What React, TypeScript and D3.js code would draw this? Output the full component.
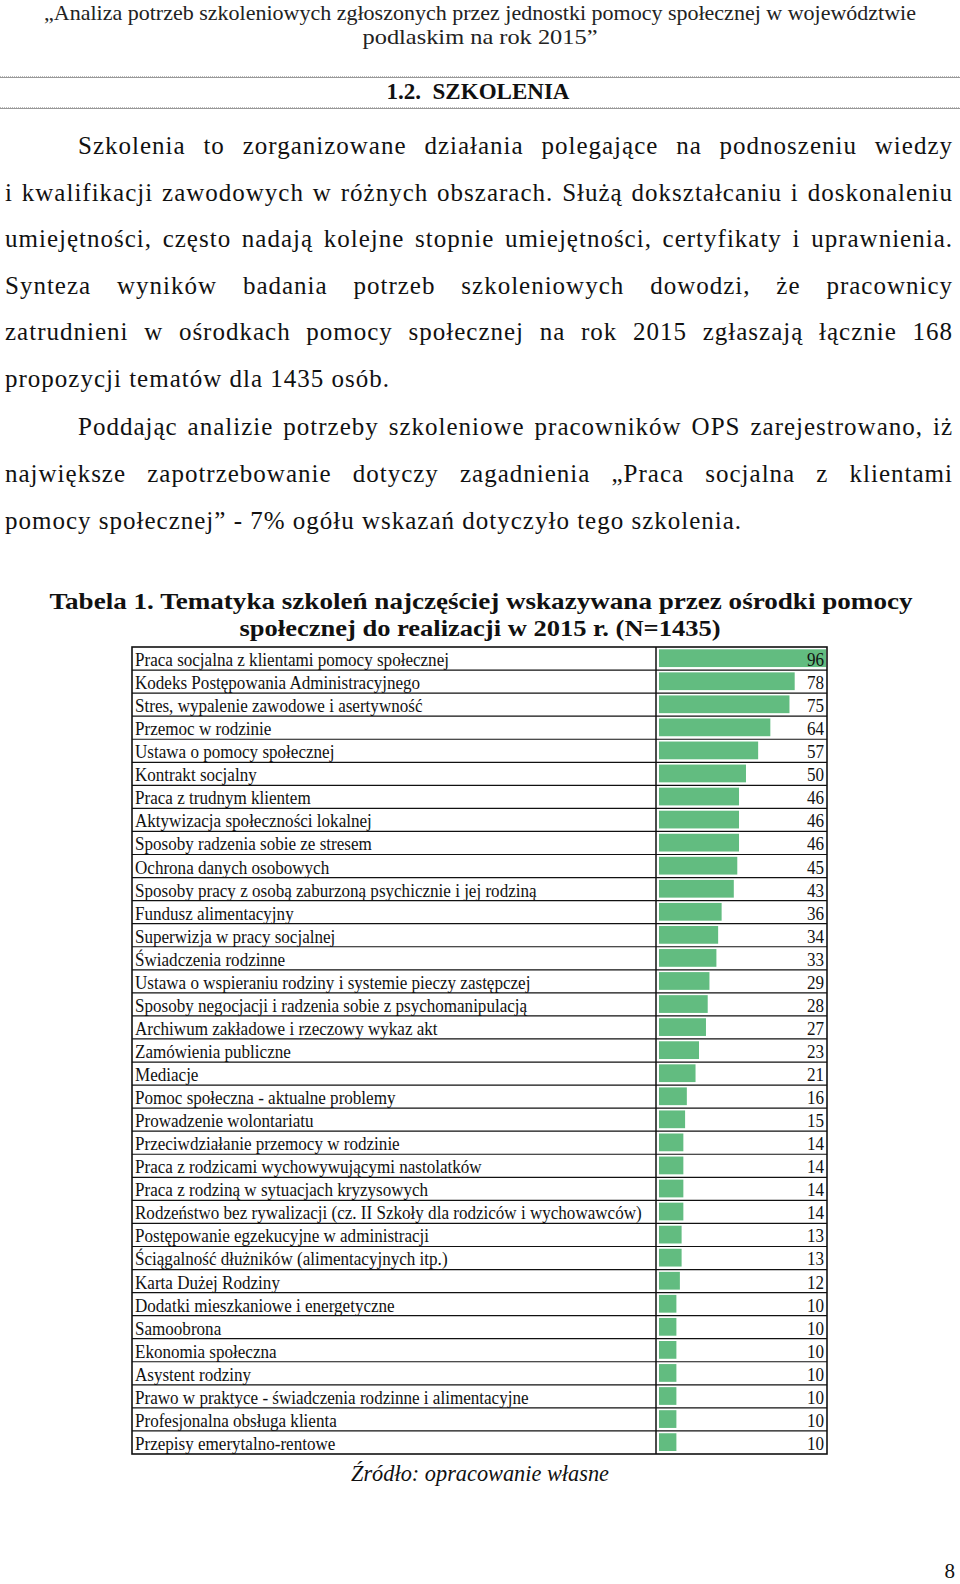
import React, { useLayoutEffect, useRef } from 'react';
import * as d3 from 'd3';

const topics: string[] = [
  'Praca socjalna z klientami pomocy społecznej',
  'Kodeks Postępowania Administracyjnego',
  'Stres, wypalenie zawodowe i asertywność',
  'Przemoc w rodzinie',
  'Ustawa o pomocy społecznej',
  'Kontrakt socjalny',
  'Praca z trudnym klientem',
  'Aktywizacja społeczności lokalnej',
  'Sposoby radzenia sobie ze stresem',
  'Ochrona danych osobowych',
  'Sposoby pracy z osobą zaburzoną psychicznie i jej rodziną',
  'Fundusz alimentacyjny',
  'Superwizja w pracy socjalnej',
  'Świadczenia rodzinne',
  'Ustawa o wspieraniu rodziny i systemie pieczy zastępczej',
  'Sposoby negocjacji i radzenia sobie z psychomanipulacją',
  'Archiwum zakładowe i rzeczowy wykaz akt',
  'Zamówienia publiczne',
  'Mediacje',
  'Pomoc społeczna - aktualne problemy',
  'Prowadzenie wolontariatu',
  'Przeciwdziałanie przemocy w rodzinie',
  'Praca z rodzicami wychowywującymi nastolatków',
  'Praca z rodziną w sytuacjach kryzysowych',
  'Rodzeństwo bez rywalizacji (cz. II Szkoły dla rodziców i wychowawców)',
  'Postępowanie egzekucyjne w administracji',
  'Ściągalność dłużników (alimentacyjnych itp.)',
  'Karta Dużej Rodziny',
  'Dodatki mieszkaniowe i energetyczne',
  'Samoobrona',
  'Ekonomia społeczna',
  'Asystent rodziny',
  'Prawo w praktyce - świadczenia rodzinne i alimentacyjne',
  'Profesjonalna obsługa klienta',
  'Przepisy emerytalno-rentowe',
];

const counts: number[] = [
  96, 78, 75, 64, 57, 50, 46, 46, 46, 45, 43, 36, 34, 33, 29, 28, 27, 23, 21, 16,
  15, 14, 14, 14, 14, 13, 13, 12, 10, 10, 10, 10, 10, 10, 10,
];

const headerLines: string[] = [
  '„Analiza potrzeb szkoleniowych zgłoszonych przez jednostki pomocy społecznej w województwie',
  'podlaskim na rok 2015”',
];

const sectionTitle = '1.2.\u00a0 SZKOLENIA';

const paragraphLines: { text: string; indent: boolean; justify: boolean }[] = [
  { text: 'Szkolenia to zorganizowane działania polegające na podnoszeniu wiedzy', indent: true, justify: true },
  { text: 'i kwalifikacji zawodowych w różnych obszarach. Służą dokształcaniu i doskonaleniu', indent: false, justify: true },
  { text: 'umiejętności, często nadają kolejne stopnie umiejętności, certyfikaty i uprawnienia.', indent: false, justify: true },
  { text: 'Synteza wyników badania potrzeb szkoleniowych dowodzi, że pracownicy', indent: false, justify: true },
  { text: 'zatrudnieni w ośrodkach pomocy społecznej na rok 2015 zgłaszają łącznie 168', indent: false, justify: true },
  { text: 'propozycji tematów dla 1435 osób.', indent: false, justify: false },
  { text: 'Poddając analizie potrzeby szkoleniowe pracowników OPS zarejestrowano, iż', indent: true, justify: true },
  { text: 'największe zapotrzebowanie dotyczy zagadnienia „Praca socjalna z klientami', indent: false, justify: true },
  { text: 'pomocy społecznej” - 7% ogółu wskazań dotyczyło tego szkolenia.', indent: false, justify: false },
];

const tableTitle: string[] = [
  'Tabela 1. Tematyka szkoleń najczęściej wskazywana przez ośrodki pomocy',
  'społecznej do realizacji w 2015 r. (N=1435)',
];

const sourceNote = 'Źródło: opracowanie własne';
const pageNumber = '8';

const W = 960;
const H = 1584;
const SERIF = '"Liberation Serif", "Times New Roman", serif';

function JustLine(props: {
  x: number; y: number; width: number; text: string; justify: boolean; fontSize: number; letterSpacing: number;
}) {
  const ref = useRef<SVGTextElement>(null);
  useLayoutEffect(() => {
    const el = ref.current;
    if (!el || !props.justify) return;
    el.style.wordSpacing = '0px';
    const natural = el.getComputedTextLength();
    const spaces = (props.text.match(/ /g) || []).length;
    if (spaces > 0) el.style.wordSpacing = `${(props.width - natural) / spaces}px`;
  }, [props.text, props.width, props.justify]);
  return (
    <text ref={ref} x={props.x} y={props.y} fontSize={props.fontSize} fontFamily={SERIF} fill="#111"
      style={{ letterSpacing: `${props.letterSpacing}px` }}>
      {props.text}
    </text>
  );
}

export default function App() {
  const tableLeft = 132;
  const tableRight = 827;
  const divider = 656;
  const tableTop = 647;
  const tableBottom = 1454;

  const y = d3
    .scaleBand<string>()
    .domain(topics)
    .range([tableTop, tableBottom])
    .paddingInner(0)
    .paddingOuter(0);
  const rowH = y.bandwidth();
  const x = d3
    .scaleLinear()
    .domain([0, d3.max(counts) as number])
    .range([659, 826]);

  const sx = 0.875;
  const labelSize = 19.5;

  const paraX0 = 5;
  const paraRight = 953;
  const paraBaselines = [154, 201, 247, 294, 340, 387, 435, 482, 529];

  return (
    <svg
      width={W}
      height={H}
      viewBox={`0 0 ${W} ${H}`}
      style={{ position: 'absolute', left: 0, top: 0, background: '#fff' }}
    >
      <rect x={0} y={0} width={W} height={H} fill="#fff" />

      {/* running header */}
      <text x={480} y={20} textAnchor="middle" fontFamily={SERIF} fontSize={21} fill="#222"
        textLength={872} lengthAdjust="spacingAndGlyphs">{headerLines[0]}</text>
      <text x={480} y={44} textAnchor="middle" fontFamily={SERIF} fontSize={21} fill="#222"
        textLength={235} lengthAdjust="spacingAndGlyphs">{headerLines[1]}</text>

      {/* rules */}
      {[77, 108].map((ry) => (
        <g key={ry}>
          <line x1={0} x2={W} y1={ry - 0.5} y2={ry - 0.5} stroke="#bbb" strokeWidth={1} strokeDasharray="1 1" />
          <line x1={0} x2={W} y1={ry + 0.5} y2={ry + 0.5} stroke="#999" strokeWidth={1} />
        </g>
      ))}

      <text x={478} y={99} textAnchor="middle" fontFamily={SERIF} fontWeight="bold" fontSize={24} fill="#111"
        textLength={183} lengthAdjust="spacingAndGlyphs">{sectionTitle}</text>

      {/* paragraphs */}
      {paragraphLines.map((l, i) => {
        const lx = l.indent ? 78 : paraX0;
        return (
          <JustLine key={i} x={lx} y={paraBaselines[i]} width={paraRight - lx} text={l.text}
            justify={l.justify} fontSize={25} letterSpacing={1} />
        );
      })}

      {/* table title */}
      <text x={481} y={609} textAnchor="middle" fontFamily={SERIF} fontWeight="bold" fontSize={24} fill="#111"
        textLength={863} lengthAdjust="spacingAndGlyphs">{tableTitle[0]}</text>
      <text x={480} y={636} textAnchor="middle" fontFamily={SERIF} fontWeight="bold" fontSize={24} fill="#111"
        textLength={481} lengthAdjust="spacingAndGlyphs">{tableTitle[1]}</text>

      {/* bars */}
      {topics.map((t, i) => {
        const top = y(t) as number;
        return (
          <rect key={'b' + i} x={x(0)} y={top + 2.3} width={x(counts[i]) - x(0)} height={rowH - 5.3}
            fill="#62bc80" />
        );
      })}

      {/* row lines */}
      {topics.slice(1).map((t) => (
        <line key={'r' + t} x1={tableLeft} x2={tableRight} y1={y(t) as number} y2={y(t) as number}
          stroke="#111" strokeWidth={1.2} />
      ))}
      <line x1={divider} x2={divider} y1={tableTop} y2={tableBottom} stroke="#111" strokeWidth={1.5} />
      <rect x={tableLeft} y={tableTop} width={tableRight - tableLeft} height={tableBottom - tableTop}
        fill="none" stroke="#111" strokeWidth={1.6} />

      {/* labels */}
      {topics.map((t, i) => {
        const base = (y(t) as number) + 19;
        return (
          <g key={'l' + i}>
            <text transform={`translate(135,${base}) scale(${sx},1)`} fontFamily={SERIF} fontSize={labelSize}
              fill="#111">{t}</text>
            <text transform={`translate(824,${base}) scale(${sx},1)`} textAnchor="end" fontFamily={SERIF}
              fontSize={labelSize} fill="#111">{counts[i]}</text>
          </g>
        );
      })}

      {/* source */}
      <text x={480} y={1481} textAnchor="middle" fontFamily={SERIF} fontStyle="italic" fontSize={24} fill="#111"
        textLength={258} lengthAdjust="spacingAndGlyphs">{sourceNote}</text>

      <text x={955} y={1578} textAnchor="end" fontFamily={SERIF} fontSize={21} fill="#111">{pageNumber}</text>
    </svg>
  );
}
